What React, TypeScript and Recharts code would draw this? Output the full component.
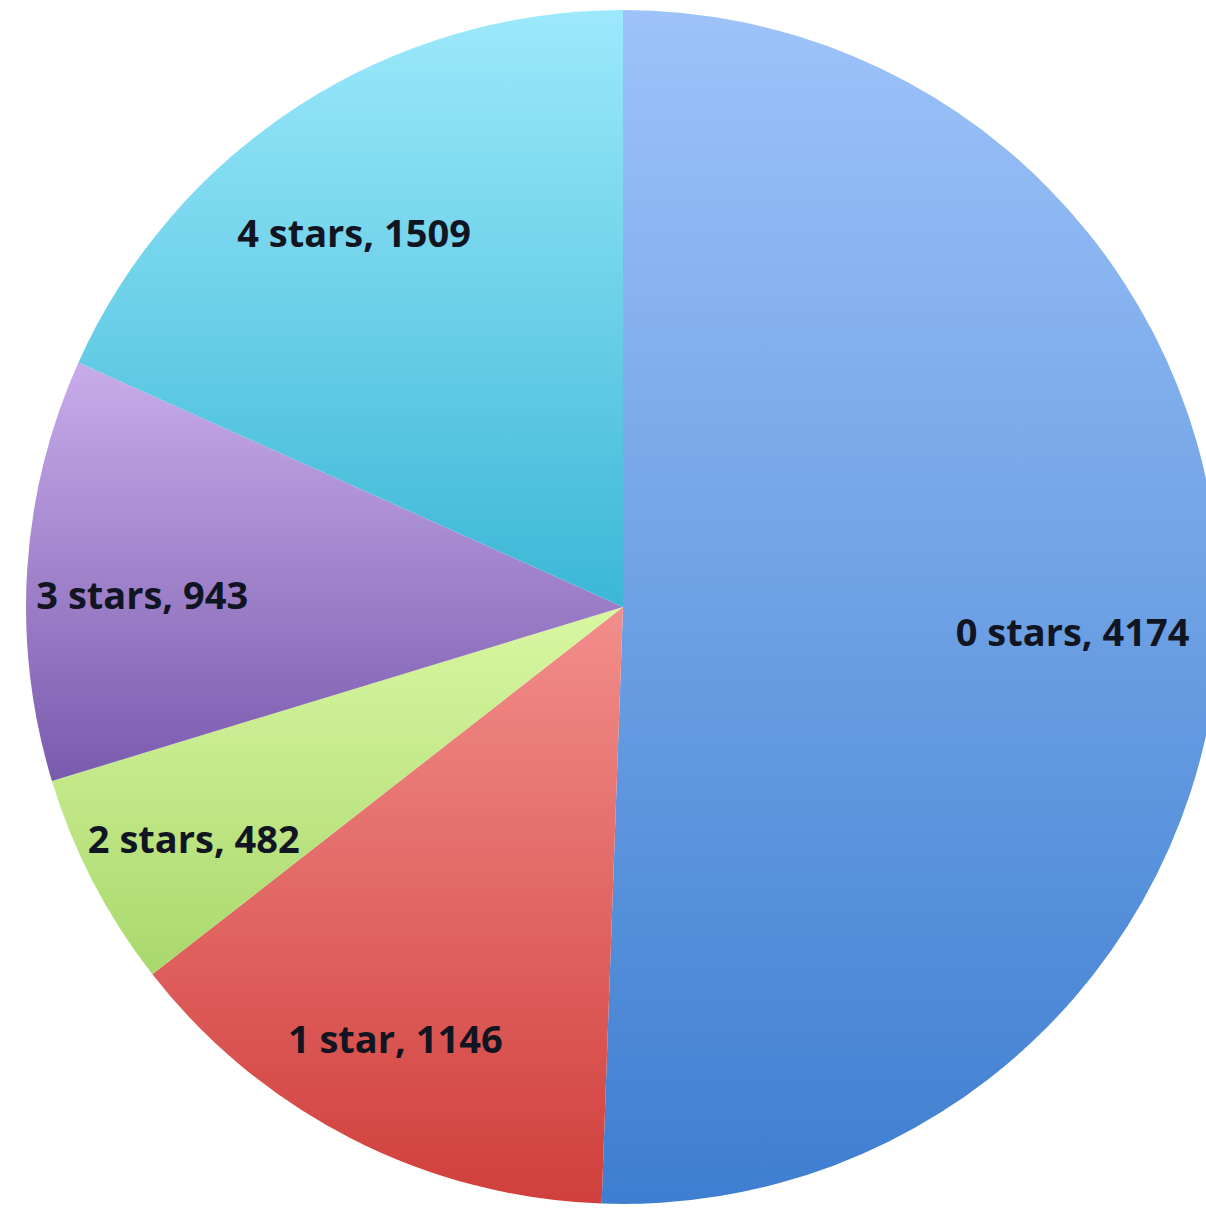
import React from 'react';
import { PieChart, Pie, Cell } from 'recharts';

const categories = ['0 stars', '1 star', '2 stars', '3 stars', '4 stars'];
const counts = [4174, 1146, 482, 943, 1509];

const gradientTops = ['#9dc3f9', '#f28e8c', '#d9f7a2', '#c8acea', '#9ce9fb'];
const gradientBottoms = ['#3e7ed0', '#d03f3b', '#a9d86c', '#7a5aae', '#3bb7d6'];

const data = categories.map((name, i) => ({ name, value: counts[i] }));

const RADIAN = Math.PI / 180;

const renderLabel = (props: any) => {
  const { cx, cy, midAngle, outerRadius, name, value } = props;
  const r = outerRadius * 0.78;
  const x = cx + r * Math.cos(-midAngle * RADIAN) - 16;
  const y = cy + r * Math.sin(-midAngle * RADIAN) + 16;
  return (
    <text
      x={x}
      y={y}
      fill="#111522"
      textAnchor="middle"
      dominantBaseline="central"
      fontFamily="'Open Sans', sans-serif"
      fontWeight="bold"
      fontSize={38}
    >
      {`${name}, ${value}`}
    </text>
  );
};

const App = () => {
  return (
    <div style={{ position: 'absolute', left: 0, top: 0, background: '#fff' }}>
      <PieChart width={1206} height={1210} margin={{ top: 0, right: 0, bottom: 0, left: 0 }}>
        <defs>
          {categories.map((c, i) => (
            <linearGradient key={c} id={`slice-${i}`} x1="0" y1="0" x2="0" y2="1">
              <stop offset="0%" stopColor={gradientTops[i]} />
              <stop offset="100%" stopColor={gradientBottoms[i]} />
            </linearGradient>
          ))}
        </defs>
        <Pie
          data={data}
          dataKey="value"
          nameKey="name"
          cx={623}
          cy={607}
          outerRadius={597}
          startAngle={90}
          endAngle={-270}
          stroke="none"
          labelLine={false}
          label={renderLabel}
          isAnimationActive={false}
        >
          {data.map((d, i) => (
            <Cell key={d.name} fill={`url(#slice-${i})`} />
          ))}
        </Pie>
      </PieChart>
    </div>
  );
};

export default App;
